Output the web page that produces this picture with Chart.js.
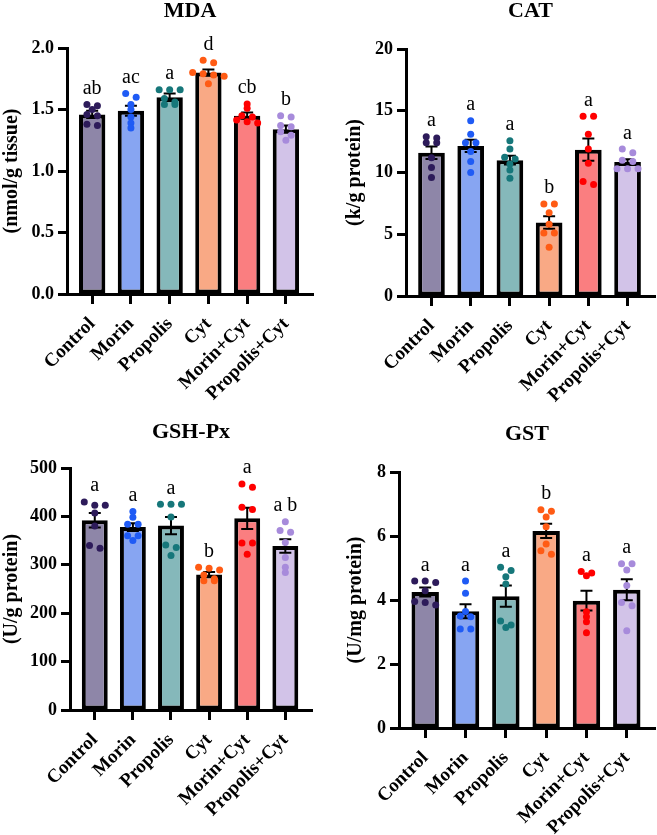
<!DOCTYPE html>
<html><head><meta charset="utf-8">
<script src="https://cdn.jsdelivr.net/npm/chart.js@4"></script>
<style>
html,body{margin:0;padding:0;background:#fff;}
#wrap{position:relative;width:657px;height:835px;overflow:hidden;background:#fff;}
canvas{position:absolute;}
</style></head><body>
<div id="wrap">
<canvas id="c0" width="328" height="418" style="left:0;top:0"></canvas>
<canvas id="c1" width="329" height="418" style="left:328px;top:0"></canvas>
<canvas id="c2" width="328" height="417" style="left:0;top:418px"></canvas>
<canvas id="c3" width="329" height="417" style="left:328px;top:418px"></canvas>
</div>
<script>
// ---------------- DATA ----------------
const categories = ['Control','Morin','Propolis','Cyt','Morin+Cyt','Propolis+Cyt'];

const mdaTitle = 'MDA', mdaUnit = '(nmol/g tissue)';
const mdaMean = [1.46, 1.49, 1.60, 1.80, 1.45, 1.34];
const mdaSem  = [0.03, 0.04, 0.03, 0.025, 0.025, 0.03];
const mdaPoints = [
  [1.54,1.53,1.50,1.46,1.45,1.38,1.37],
  [1.63,1.60,1.54,1.50,1.44,1.39,1.35],
  [1.66,1.66,1.66,1.59,1.56,1.54,1.54],
  [1.90,1.88,1.80,1.79,1.78,1.77,1.71],
  [1.545,1.51,1.45,1.44,1.415,1.40,1.39],
  [1.45,1.44,1.37,1.36,1.32,1.29,1.25]
];
const mdaLetters = ['ab','ac','a','d','cb','b'];
const mdaTicks = [0, 2.0, 0.5];

const catTitle = 'CAT', catUnit = '(k/g protein)';
const catMean = [11.6, 12.15, 11.0, 5.95, 11.85, 10.85];
const catSem  = [0.5, 0.5, 0.36, 0.5, 0.9, 0.23];
const catPoints = [
  [12.8,12.9,12.4,12.4,11.2,10.4,9.6],
  [14.2,13.1,12.4,12.4,11.7,10.9,10.0],
  [12.58,11.9,11.23,11.09,10.69,10.2,9.53],
  [7.45,7.45,6.75,5.8,5.1,5.1,3.95],
  [14.55,14.55,13.1,11.9,10.75,9.27,9.03],
  [11.9,11.6,11.0,10.9,10.3,10.3,10.3]
];
const catLetters = ['a','a','a','b','a','a'];
const catTicks = [0, 20, 5];

const gshTitle = 'GSH-Px', gshUnit = '(U/g protein)';
const gshMean = [392, 378, 381, 280, 396, 339];
const gshSem  = [15, 8, 18, 5, 22, 14];
const gshPoints = [
  [430,423,423,407,380,340,334],
  [410,398,384,384,360,360,350],
  [425,425,425,399,341,336,319],
  [295,293,289,279,271,267,267],
  [467,460,419,414,345,345,322],
  [389,371,367,346,315,295,284]
];
const gshLetters = ['a','a','a','b','a','a b'];
const gshTicks = [0, 500, 100];

const gstTitle = 'GST', gstUnit = '(U/mg protein)';
const gstMean = [4.25, 3.65, 4.12, 6.16, 3.98, 4.32];
const gstSem  = [0.14, 0.22, 0.33, 0.22, 0.31, 0.33];
const gstPoints = [
  [4.59,4.59,4.55,4.29,3.95,3.92,3.84],
  [4.59,4.21,3.64,3.50,3.48,3.09,3.09],
  [5.02,4.92,4.73,4.50,3.34,3.22,3.14],
  [6.82,6.77,6.59,6.29,5.75,5.54,5.43],
  [4.89,4.84,4.76,3.63,3.48,3.32,2.98],
  [5.13,5.13,4.94,4.45,3.92,3.82,3.04]
];
const gstLetters = ['a','a','a','b','a','a'];
const gstTicks = [0, 8, 2];

// ---------------- STYLE ----------------
const barFill = ['#8E86A8','#87A5F2','#85B8BA','#F9A985','#FA7E80','#D2C3E8'];
const dotFill = ['#2D1B5A','#1F5BF5','#16777A','#FF5B14','#FF0000','#A78BDB'];
const FONT = '"Liberation Serif","Times New Roman",serif';
Chart.defaults.font.family = FONT;
Chart.defaults.color = '#000';

const X_MIN = -0.65, X_MAX = 5.7;

const panels = [
  {id:'c0', w:328, h:418, area:{l:67, r:313, t:48, b:294}, titleBase:17, yTitlePad:0,
   title:mdaTitle, unit:mdaUnit, mean:mdaMean, sem:mdaSem, pts:mdaPoints, letters:mdaLetters, ticks:mdaTicks, dec:1},
  {id:'c1', w:329, h:418, area:{l:78, r:327, t:49, b:296}, titleBase:17, yTitlePad:15,
   title:catTitle, unit:catUnit, mean:catMean, sem:catSem, pts:catPoints, letters:catLetters, ticks:catTicks, dec:0},
  {id:'c2', w:328, h:417, area:{l:70, r:312, t:50, b:292}, titleBase:20, yTitlePad:0,
   title:gshTitle, unit:gshUnit, mean:gshMean, sem:gshSem, pts:gshPoints, letters:gshLetters, ticks:gshTicks, dec:0},
  {id:'c3', w:329, h:417, area:{l:71, r:327, t:54, b:310}, titleBase:22, yTitlePad:16,
   title:gstTitle, unit:gstUnit, mean:gstMean, sem:gstSem, pts:gstPoints, letters:gstLetters, ticks:gstTicks, dec:0}
];

// simple row-based dot arrangement (horizontal spreading only)
function swarm(vals, pxY, pxX){
  const idx = vals.map((v,i)=>i).sort((a,b)=>vals[b]-vals[a]);
  const rows = []; let cur = null;
  idx.forEach(i=>{
    if (cur && (vals[cur[0]]-vals[i])*pxY <= 4) cur.push(i);
    else { cur=[i]; rows.push(cur); }
  });
  const off = new Array(vals.length).fill(0);
  rows.forEach(r=>r.forEach((i,k)=>{ off[i] = (k-(r.length-1)/2)*10.5/pxX; }));
  return off;
}

panels.forEach(P=>{
  const [yMin, yMax, yStep] = P.ticks;
  const pxY = (P.area.b - P.area.t)/(yMax - yMin);
  const pxX = (P.area.r - P.area.l)/(X_MAX - X_MIN);

  const barData = P.mean.map((v,i)=>({x:i, y:v}));
  const dotData = [], dotColors = [];
  P.pts.forEach((grp,i)=>{
    const off = swarm(grp, pxY, pxX);
    grp.forEach((v,k)=>{ dotData.push({x:i+off[k], y:v}); dotColors.push(dotFill[i]); });
  });

  const decor = {
    id:'decor'+P.id,
    afterDatasetDraw(chart, args){
      if (args.index !== 0) return;
      const {ctx} = chart; const xs = chart.scales.x, ys = chart.scales.y;
      ctx.save();
      ctx.strokeStyle = '#000'; ctx.lineWidth = 2;
      P.mean.forEach((m,i)=>{
        const x = xs.getPixelForValue(i);
        const y1 = ys.getPixelForValue(m + P.sem[i]);
        const y2 = ys.getPixelForValue(m - P.sem[i]);
        ctx.beginPath();
        ctx.moveTo(x, y1); ctx.lineTo(x, y2);
        ctx.moveTo(x-6, y1); ctx.lineTo(x+6, y1);
        ctx.moveTo(x-6, y2); ctx.lineTo(x+6, y2);
        ctx.stroke();
      });
      ctx.restore();
    },
    afterDraw(chart){
      const {ctx, chartArea} = chart; const xs = chart.scales.x, ys = chart.scales.y;
      ctx.save();
      ctx.fillStyle = '#000';
      ctx.textAlign = 'center'; ctx.textBaseline = 'alphabetic';
      ctx.font = 'bold 22px ' + FONT;
      ctx.fillText(P.title, (chartArea.left + chartArea.right)/2, P.titleBase);
      ctx.font = '20px ' + FONT;
      P.letters.forEach((t,i)=>{
        const top = Math.max(Math.max(...P.pts[i]), P.mean[i] + P.sem[i]);
        ctx.fillText(t, xs.getPixelForValue(i), ys.getPixelForValue(top) - 10.5);
      });
      ctx.restore();
    }
  };

  new Chart(document.getElementById(P.id), {
    type:'bar',
    data:{
      datasets:[
        {type:'bar', data:barData, backgroundColor:barFill, borderColor:'#000', borderWidth:4,
         borderSkipped:false, barPercentage:0.68, categoryPercentage:1, order:1},
        {type:'scatter', data:dotData, pointBackgroundColor:dotColors, pointBorderWidth:0,
         pointRadius:3.5, pointHoverRadius:3.5, showLine:false, order:0}
      ]
    },
    options:{
      responsive:false, devicePixelRatio:1, animation:false,
      layout:{autoPadding:false, padding:{top:P.area.t, left:0, right:P.w - P.area.r, bottom:0}},
      plugins:{legend:{display:false}, tooltip:{enabled:false}, title:{display:false}},
      scales:{
        x:{type:'linear', min:X_MIN, max:X_MAX, offset:false,
           ticks:{stepSize:1, includeBounds:false, autoSkip:false, maxRotation:45, minRotation:45,
                  callback:v=>categories[v] ?? '', color:'#000', font:{size:19, weight:'bold'}, padding:9},
           grid:{display:true, offset:false, drawOnChartArea:false, tickLength:10, tickWidth:3, tickColor:'#000'},
           border:{display:true, width:3, color:'#000'},
           afterFit:s=>{ s.height = P.h - P.area.b; }},
        y:{min:yMin, max:yMax,
           ticks:{stepSize:yStep, callback:v=>Number(v).toFixed(P.dec), color:'#000', font:{size:18, weight:'bold'}, padding:4},
           grid:{display:true, drawOnChartArea:false, tickLength:9, tickWidth:3, tickColor:'#000'},
           border:{display:true, width:3, color:'#000'},
           title:{display:true, text:P.unit, color:'#000', font:{size:20, weight:'bold'}, padding:{top:P.yTitlePad, bottom:0}},
           afterFit:s=>{ s.width = P.area.l; }}
      }
    },
    plugins:[decor]
  });
});
</script>
</body></html>
